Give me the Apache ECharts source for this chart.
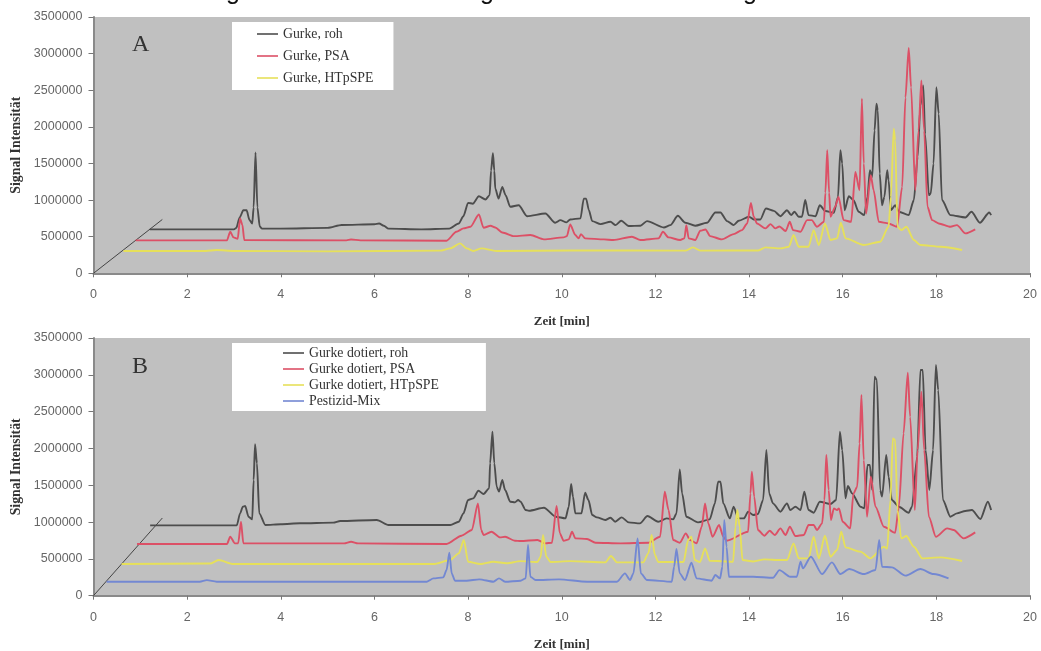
<!DOCTYPE html>
<html><head><meta charset="utf-8">
<style>html,body{margin:0;padding:0;background:#fff}#c{width:1041px;height:651px;filter:blur(0.45px)}</style>
<script src="https://cdn.jsdelivr.net/npm/echarts@6/dist/echarts.min.js"></script>
</head><body><div id="c"></div>
<script>
const xTicksMax = 20;
const yMax = 3500000;
const seriesNamesA = ["Gurke, roh","Gurke, PSA","Gurke, HTpSPE"];
const seriesNamesB = ["Gurke dotiert, roh","Gurke dotiert, PSA","Gurke dotiert, HTpSPE","Pestizid-Mix"];

const aRoh = [[1.2,600000],[3,600000],[3.05,620000],[3.12,760000],[3.2,860000],[3.27,860000],[3.33,730000],[3.39,680000],[3.42,900000],[3.46,1650000],[3.5,900000],[3.55,640000],[3.6,610000],[4,610000],[5,620000],[5.3,660000],[6,670000],[6.1,680000],[6.2,650000],[6.3,610000],[7,600000],[7.6,610000],[7.8,680000],[7.9,780000],[8,962000],[8.1,950000],[8.23,1053000],[8.37,1008000],[8.46,1067000],[8.49,1400000],[8.53,1640000],[8.56,1400000],[8.58,1158000],[8.65,1020000],[8.73,1180000],[8.8,1067000],[8.9,908000],[9.08,930000],[9.26,780000],[9.65,817000],[9.86,690000],[9.97,726000],[10.1,695000],[10.18,735000],[10.4,750000],[10.47,1020000],[10.52,1020000],[10.58,862000],[10.65,713000],[10.83,672000],[11.04,704000],[11.15,658000],[11.27,717000],[11.43,645000],[11.68,650000],[11.82,713000],[12.18,626000],[12.32,658000],[12.48,785000],[12.64,690000],[12.85,650000],[13.1,690000],[13.28,830000],[13.39,830000],[13.53,713000],[13.67,658000],[13.78,717000],[14,772000],[14.1,735000],[14.24,735000],[14.36,885000],[14.53,853000],[14.67,780000],[14.81,862000],[14.9,795000],[14.97,840000],[15.06,772000],[15.13,772000],[15.2,1000000],[15.27,795000],[15.42,780000],[15.51,930000],[15.63,850000],[15.81,826000],[15.9,1044000],[15.95,1680000],[15.99,1500000],[16.04,862000],[16.13,1053000],[16.23,1000000],[16.34,840000],[16.46,795000],[16.53,1044000],[16.58,1407000],[16.63,1316000],[16.68,1950000],[16.72,2315000],[16.75,2225000],[16.79,1362000],[16.84,930000],[16.89,1044000],[16.95,1407000],[16.98,1270000],[17.03,862000],[17.12,930000],[17.2,840000],[17.41,795000],[17.52,1000000],[17.6,1590000],[17.66,2290000],[17.72,2565000],[17.76,1900000],[17.84,1067000],[17.88,1090000],[17.94,1500000],[18,2540000],[18.05,2180000],[18.12,1000000],[18.3,795000],[18.62,763000],[18.75,840000],[18.93,690000],[19.13,830000],[19.17,795000]];
const aPsa = [[0.9,450000],[2.85,450000],[2.92,567000],[2.99,490000],[3.08,470000],[3.13,750000],[3.18,660000],[3.22,454000],[5.4,450000],[5.5,462000],[5.7,450000],[7.54,445000],[7.75,567000],[7.9,613000],[8.05,636000],[8.23,803000],[8.33,622000],[8.48,649000],[8.58,625000],[8.73,558000],[8.98,508000],[9.33,522000],[9.62,463000],[10.04,490000],[10.11,508000],[10.18,667000],[10.29,522000],[10.36,477000],[10.41,535000],[10.5,477000],[10.9,463000],[11.1,454000],[11.5,500000],[11.68,454000],[12.07,477000],[12.16,567000],[12.28,490000],[12.53,454000],[12.62,477000],[12.66,658000],[12.71,477000],[12.85,454000],[12.96,581000],[13.07,599000],[13.17,508000],[13.42,463000],[13.67,535000],[13.85,590000],[13.96,680000],[14.04,962000],[14.1,772000],[14.17,680000],[14.35,613000],[14.46,672000],[14.56,613000],[14.65,640000],[14.78,577000],[14.87,703000],[14.94,590000],[15.1,567000],[15.24,726000],[15.34,726000],[15.45,635000],[15.6,703000],[15.63,1100000],[15.67,1680000],[15.71,1100000],[15.74,772000],[15.84,908000],[15.91,1044000],[16.02,726000],[16.18,703000],[16.27,1385000],[16.36,1135000],[16.41,2384000],[16.45,1500000],[16.5,817000],[16.6,1340000],[16.66,1135000],[16.77,703000],[16.98,681000],[17.16,635000],[17.27,1180000],[17.34,2400000],[17.41,3078000],[17.46,2540000],[17.55,1135000],[17.62,1950000],[17.68,2633000],[17.74,1950000],[17.81,908000],[17.91,726000],[18.05,681000],[18.3,635000],[18.44,658000],[18.62,545000],[18.83,600000]];
const aHtp = [[0.64,304000],[2.4,305000],[2.63,318000],[3,305000],[5,300000],[7.4,309000],[7.62,340000],[7.83,409000],[7.97,340000],[8.11,305000],[8.29,340000],[8.6,305000],[10.2,312000],[12.65,310000],[12.8,354000],[12.96,310000],[14.2,312000],[14.35,354000],[14.67,340000],[14.85,363000],[14.95,522000],[15.06,363000],[15.27,363000],[15.38,590000],[15.49,386000],[15.62,681000],[15.74,454000],[15.88,477000],[15.96,690000],[16.06,477000],[16.45,386000],[16.8,431000],[16.98,635000],[17.03,1044000],[17.09,1975000],[17.12,1816000],[17.17,635000],[17.25,590000],[17.36,635000],[17.52,454000],[17.66,386000],[18.09,363000],[18.55,318000]];

const bRoh = [[1.21,955000],[3.06,955000],[3.13,1118000],[3.19,1209000],[3.24,1218000],[3.31,1073000],[3.39,1037000],[3.42,1571000],[3.45,2056000],[3.49,1798000],[3.54,1118000],[3.67,960000],[4,970000],[4.41,983000],[5.12,992000],[5.27,1014000],[6.05,1028000],[6.3,960000],[7.62,960000],[7.8,1005000],[7.9,1118000],[8,1300000],[8.11,1322000],[8.22,1426000],[8.33,1381000],[8.45,1458000],[8.47,1798000],[8.52,2228000],[8.56,1798000],[8.61,1480000],[8.66,1413000],[8.73,1571000],[8.79,1435000],[8.9,1277000],[9,1268000],[9.07,1300000],[9.12,1277000],[9.23,1163000],[9.3,1154000],[9.62,1195000],[9.87,1073000],[10.08,1050000],[10.15,1209000],[10.2,1517000],[10.24,1344000],[10.29,1118000],[10.42,1118000],[10.5,1399000],[10.57,1299000],[10.65,1096000],[10.75,1064000],[10.93,1028000],[11.04,1059000],[11.14,1005000],[11.28,1064000],[11.43,996000],[11.67,982000],[11.83,1082000],[12.06,1005000],[12.24,1050000],[12.38,1037000],[12.45,1118000],[12.52,1716000],[12.57,1390000],[12.66,1073000],[12.91,996000],[13.16,1037000],[13.27,1254000],[13.34,1548000],[13.39,1548000],[13.45,1254000],[13.59,1050000],[13.67,1209000],[13.77,1050000],[13.89,1050000],[13.98,1141000],[14.09,1096000],[14.19,1109000],[14.3,1299000],[14.37,1978000],[14.43,1390000],[14.51,1254000],[14.67,1141000],[14.81,1254000],[14.88,1163000],[14.99,1209000],[15.1,1163000],[15.18,1412000],[15.27,1163000],[15.38,1127000],[15.51,1277000],[15.74,1245000],[15.86,1299000],[15.94,2227000],[15.99,1978000],[16.06,1322000],[16.11,1489000],[16.2,1390000],[16.38,1209000],[16.46,1186000],[16.53,1775000],[16.58,1775000],[16.63,1435000],[16.68,2974000],[16.73,2929000],[16.8,1435000],[16.84,1345000],[16.93,1910000],[16.98,1616000],[17.05,1299000],[17.2,1209000],[17.41,1127000],[17.48,1209000],[17.59,1888000],[17.66,3065000],[17.71,3065000],[17.77,1978000],[17.85,1435000],[17.93,1978000],[17.99,3133000],[18.04,2793000],[18.14,1299000],[18.3,1073000],[18.44,1118000],[18.62,1150000],[18.76,1163000],[18.94,1041000],[19.1,1277000],[19.17,1163000]];
const bPsa = [[0.93,702000],[2.85,702000],[2.92,801000],[3.02,711000],[3.09,711000],[3.15,1005000],[3.2,711000],[5.35,711000],[5.5,733000],[5.65,711000],[7.54,702000],[7.86,815000],[8.08,892000],[8.21,1254000],[8.28,892000],[8.33,824000],[8.5,869000],[8.68,792000],[8.79,800000],[9,747000],[9.12,742000],[9.48,756000],[9.65,711000],[9.79,720000],[9.89,1218000],[9.96,846000],[10.04,747000],[10.15,765000],[10.22,869000],[10.29,779000],[10.54,770000],[10.72,720000],[11.25,711000],[11.85,720000],[12.1,801000],[12.2,1412000],[12.28,1163000],[12.38,756000],[12.52,720000],[12.65,846000],[12.74,756000],[12.88,711000],[12.99,937000],[13.06,1254000],[13.13,982000],[13.22,801000],[13.36,960000],[13.45,801000],[13.52,747000],[13.98,869000],[14.03,1390000],[14.06,1684000],[14.11,1345000],[14.19,892000],[14.33,815000],[14.44,883000],[14.55,824000],[14.67,914000],[14.78,824000],[14.87,937000],[14.99,810000],[15.17,825000],[15.27,960000],[15.38,960000],[15.45,892000],[15.56,982000],[15.61,1299000],[15.65,1910000],[15.7,1435000],[15.75,1028000],[15.81,1186000],[15.88,1163000],[15.92,1186000],[16,1005000],[16.16,914000],[16.23,1390000],[16.31,1480000],[16.36,2069000],[16.4,2725000],[16.45,1842000],[16.52,1073000],[16.6,1616000],[16.7,1209000],[16.88,937000],[17.12,855000],[17.2,1209000],[17.3,2205000],[17.39,3029000],[17.44,2431000],[17.54,1163000],[17.6,1978000],[17.68,2770000],[17.74,1978000],[17.84,1073000],[17.99,801000],[18.23,914000],[18.37,892000],[18.58,779000],[18.83,860000]];
const bHtp = [[0.6,430000],[2.49,437000],[2.67,484000],[2.99,430000],[7.26,430000],[7.62,484000],[7.8,575000],[7.91,756000],[8,462000],[8.26,430000],[8.54,462000],[8.82,440000],[9.12,470000],[9.48,457000],[9.55,530000],[9.6,824000],[9.67,530000],[9.76,457000],[10.18,470000],[10.93,453000],[11.05,539000],[11.18,453000],[11.74,453000],[11.85,575000],[11.92,824000],[11.99,552000],[12.06,457000],[12.6,457000],[12.7,756000],[12.77,801000],[12.84,484000],[12.95,457000],[13.06,643000],[13.16,475000],[13.66,462000],[13.71,937000],[13.75,1163000],[13.8,937000],[13.86,484000],[14.09,465000],[14.33,493000],[14.67,484000],[14.81,484000],[14.95,711000],[15.06,507000],[15.27,507000],[15.38,801000],[15.49,507000],[15.62,815000],[15.74,530000],[15.88,620000],[15.97,869000],[16.06,656000],[16.38,598000],[16.59,507000],[16.88,665000],[16.95,640000],[17.02,1299000],[17.07,2137000],[17.12,2114000],[17.17,1163000],[17.25,779000],[17.36,810000],[17.52,665000],[17.7,507000],[18.09,520000],[18.55,471000]];
const bMix = [[0.28,190000],[2.27,190000],[2.42,212000],[2.63,190000],[7.12,190000],[7.26,235000],[7.47,249000],[7.54,349000],[7.6,584000],[7.65,303000],[7.72,204000],[7.97,204000],[8.24,222000],[8.54,190000],[8.66,235000],[8.79,190000],[9.12,204000],[9.23,235000],[9.28,688000],[9.33,258000],[9.44,213000],[9.94,222000],[10.54,190000],[11.18,190000],[11.35,303000],[11.46,213000],[11.53,303000],[11.62,779000],[11.69,303000],[11.82,213000],[12.35,190000],[12.4,394000],[12.45,634000],[12.52,303000],[12.63,213000],[12.77,448000],[12.88,235000],[13.2,204000],[13.28,281000],[13.38,235000],[13.43,394000],[13.47,1028000],[13.52,665000],[13.57,258000],[14.09,258000],[14.51,244000],[14.65,348000],[14.88,258000],[15.02,258000],[15.1,462000],[15.15,371000],[15.32,530000],[15.56,294000],[15.77,453000],[15.95,294000],[16.14,362000],[16.45,294000],[16.7,349000],[16.78,756000],[16.84,394000],[17.05,385000],[17.34,272000],[17.66,362000],[17.94,294000],[18.26,235000]];

const depthA = [[0,0],[1.47,735000]];
const depthB = [[0,0],[1.47,1055000]];

const colBlack = '#4d4d4d', colRed = '#dc5066', colYellow = '#e6e05a', colBlue = '#7388d2';
const serifFont = '"Liberation Serif"', tickFont = '"Liberation Sans"';

function line(name, data, color, idx, width, plain) {
  return {name, type:'line', data, xAxisIndex:idx, yAxisIndex:idx, showSymbol:false, symbol:'none',
    smooth: plain ? false : 0.25, smoothMonotone: plain ? undefined : 'x',
    animation:false, silent:true, lineStyle:{color, width:width||1.9, join:'round'}, itemStyle:{color}};
}
function xA(idx){return {gridIndex:idx,type:'value',min:0,max:xTicksMax,interval:2,
  name:'Zeit [min]',nameLocation:'middle',nameGap:42,
  nameTextStyle:{fontFamily:serifFont,fontWeight:'bold',fontSize:13,color:'#333'},
  axisLine:{show:true,onZero:false,lineStyle:{color:'#8a8a8a',width:2}},
  axisTick:{show:true,length:4,lineStyle:{color:'#777'}},
  axisLabel:{margin:15,color:'#666',fontFamily:tickFont,fontSize:12.5},splitLine:{show:false}};}
function yA(idx){return {gridIndex:idx,type:'value',min:0,max:yMax,interval:500000,
  name:'Signal Intensität',nameLocation:'middle',nameGap:70,
  nameTextStyle:{fontFamily:serifFont,fontWeight:'bold',fontSize:13.8,color:'#333'},
  axisLine:{show:true,lineStyle:{color:'#8a8a8a',width:2}},
  axisTick:{show:true,length:5,lineStyle:{color:'#777'}},
  axisLabel:{margin:11,color:'#666',fontFamily:tickFont,fontSize:12.5,formatter:v=>String(v)},splitLine:{show:false}};}
function letter(t,x,y){return {type:'text',x,y,z:50,style:{text:t,fontFamily:serifFont,fontSize:24,fill:'#333',textVerticalAlign:'top'}};}
function frag(x){return {type:'text',x,y:5,z:50,style:{text:'g',fontFamily:tickFont,fontSize:25,fill:'#111',textVerticalAlign:'bottom',textAlign:'center'}};}

const option = {
  backgroundColor:'#fff', animation:false,
  grid:[
    {left:93.5,top:17,width:936.5,height:256.3,show:true,backgroundColor:'#c0c0c0',borderWidth:0,outerBoundsMode:'none'},
    {left:93.5,top:338,width:936.5,height:257.7,show:true,backgroundColor:'#c0c0c0',borderWidth:0,outerBoundsMode:'none'}
  ],
  xAxis:[xA(0),xA(1)], yAxis:[yA(0),yA(1)],
  legend:[
    {data:seriesNamesA,orient:'vertical',left:232,top:22,backgroundColor:'#fff',borderWidth:0,icon:'rect',
      padding:[5,20,5,25],itemWidth:21,itemHeight:1.6,itemGap:8,selectedMode:false,
      textStyle:{fontFamily:serifFont,fontSize:13.8,color:'#333'}},
    {data:seriesNamesB,orient:'vertical',left:232,top:343,backgroundColor:'#fff',borderWidth:0,icon:'rect',
      padding:[3,47,3,51],itemWidth:21,itemHeight:1.6,itemGap:2,selectedMode:false,
      textStyle:{fontFamily:serifFont,fontSize:13.8,color:'#333'}}
  ],
  graphic:[letter('A',132,33),letter('B',132,355),frag(233),frag(487),frag(750)],
  series:[
    line('depthA',depthA,'#444',0,1,true),
    line('depthB',depthB,'#444',1,1,true),
    line(seriesNamesA[0],aRoh,colBlack,0),
    line(seriesNamesA[1],aPsa,colRed,0),
    line(seriesNamesA[2],aHtp,colYellow,0),
    line(seriesNamesB[0],bRoh,colBlack,1),
    line(seriesNamesB[1],bPsa,colRed,1),
    line(seriesNamesB[2],bHtp,colYellow,1),
    line(seriesNamesB[3],bMix,colBlue,1)
  ]
};
echarts.init(document.getElementById('c'),null,{renderer:'canvas'}).setOption(option);
</script></body></html>
